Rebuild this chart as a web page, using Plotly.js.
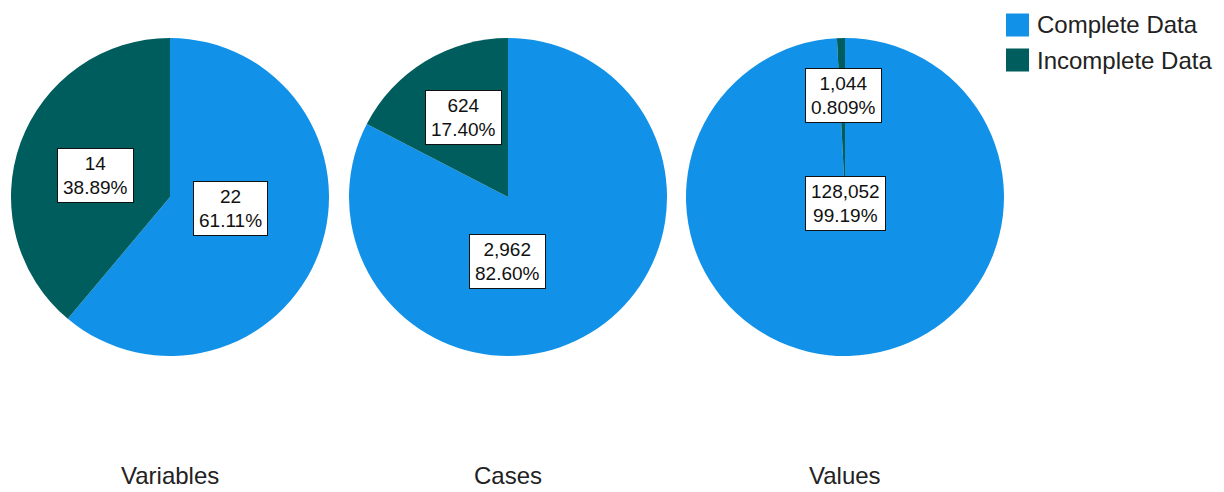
<!DOCTYPE html>
<html>
<head>
<meta charset="utf-8">
<script src="https://cdn.plot.ly/plotly-3.0.1.min.js"></script>
<style>html,body{margin:0;padding:0;background:#fff;}</style>
</head>
<body>
<div id="chart" style="width:1224px;height:492px;"></div>
<script>
// ---- data ----
const charts = ['Variables', 'Cases', 'Values'];
const categories = ['Complete Data', 'Incomplete Data'];
const completeCounts = [22, 2962, 128052];
const incompleteCounts = [14, 624, 1044];
const completePct = ['61.11%', '82.60%', '99.19%'];
const incompletePct = ['38.89%', '17.40%', '0.809%'];

// ---- style / layout config ----
const W = 1224, H = 492;
const colors = ['#1192e8', '#005d5d'];
const pieCenters = [[170, 197], [508, 197], [845, 197]];   // px
const pieRadius = 159;                                      // px
// label box offsets from each pie centre, px: [complete, incomplete]
const labelOffsets = [
  [[60, 11], [-75, -22]],
  [[-1, 64], [-45, -80]],
  [[0, 6], [-2, -101]]
];
const titleBottom = 491;
const FONT = 'Liberation Sans, Arial, sans-serif';

const fmt = v => v.toLocaleString('en-US');
const px2x = x => x / W;
const px2y = y => 1 - y / H;

const traces = charts.map((name, i) => {
  const [cx, cy] = pieCenters[i];
  return {
    type: 'pie',
    name: name,
    labels: categories,
    values: [completeCounts[i], incompleteCounts[i]],
    marker: {colors: colors, line: {width: 0}},
    sort: false,
    direction: 'clockwise',
    rotation: 0,
    textinfo: 'none',
    hoverinfo: 'label+value+percent',
    domain: {
      x: [px2x(cx - pieRadius), px2x(cx + pieRadius)],
      y: [px2y(cy + pieRadius), px2y(cy - pieRadius)]
    }
  };
});

const annotations = [];
charts.forEach((name, i) => {
  const [cx, cy] = pieCenters[i];
  const texts = [
    fmt(completeCounts[i]) + '<br>' + completePct[i],
    fmt(incompleteCounts[i]) + '<br>' + incompletePct[i]
  ];
  texts.forEach((t, k) => {
    const [dx, dy] = labelOffsets[i][k];
    annotations.push({
      xref: 'paper', yref: 'paper',
      x: px2x(cx + dx), y: px2y(cy + dy),
      xanchor: 'center', yanchor: 'middle',
      text: t, showarrow: false,
      font: {family: FONT, size: 19, color: '#111'},
      bgcolor: '#ffffff', bordercolor: '#111', borderwidth: 1,
      borderpad: 5, height: 43
    });
  });
  annotations.push({
    xref: 'paper', yref: 'paper',
    x: px2x(cx), y: px2y(titleBottom),
    xanchor: 'center', yanchor: 'bottom',
    text: name, showarrow: false,
    font: {family: FONT, size: 24, color: '#222'}
  });
});

// custom legend
const legendX = 1006, legendY0 = 25, legendStep = 35, sw = 23;
const shapes = [];
categories.forEach((c, k) => {
  const yc = legendY0 + k * legendStep;
  shapes.push({
    type: 'rect', xref: 'paper', yref: 'paper',
    x0: px2x(legendX), x1: px2x(legendX + sw),
    y0: px2y(yc + sw / 2), y1: px2y(yc - sw / 2),
    fillcolor: colors[k], line: {width: 0}
  });
  annotations.push({
    xref: 'paper', yref: 'paper',
    x: px2x(legendX + sw + 6), y: px2y(yc),
    xanchor: 'left', yanchor: 'middle',
    text: c, showarrow: false,
    font: {family: FONT, size: 24, color: '#222'}
  });
});

const layout = {
  width: W, height: H,
  margin: {l: 0, r: 0, t: 0, b: 0},
  paper_bgcolor: '#ffffff',
  showlegend: false,
  annotations: annotations,
  shapes: shapes
};

Plotly.newPlot('chart', traces, layout, {displayModeBar: false, staticPlot: true});
</script>
</body>
</html>
